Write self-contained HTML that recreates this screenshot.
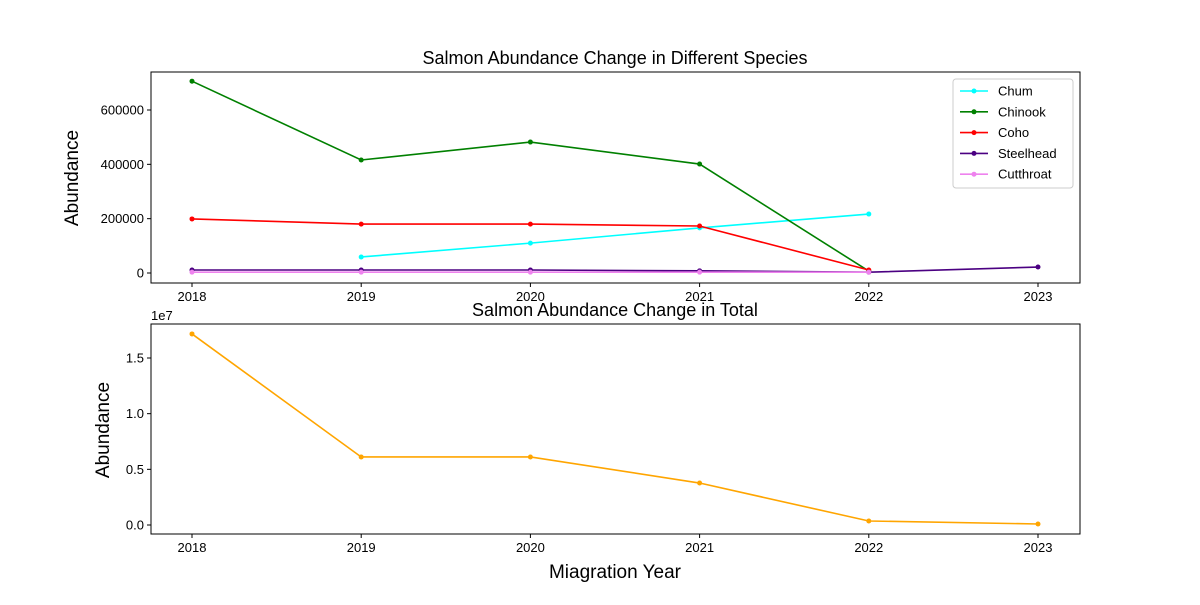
<!DOCTYPE html>
<html><head><meta charset="utf-8"><style>
body{margin:0;background:#fff}
svg{font-family:"Liberation Sans","DejaVu Sans",sans-serif}
</style></head><body>
<svg id="c" width="1200" height="600"></svg>
<script>
const years=[2018,2019,2020,2021,2022,2023];
const speciesNames=["Chum","Chinook","Coho","Steelhead","Cutthroat"];
const speciesColors=["cyan","green","red","indigo","violet"];
const chum=[null,59000,110000,166000,217000,null];
const chinook=[706000,416000,482000,401000,7000,null];
const coho=[199000,180000,180000,173000,11000,null];
const steelhead=[11000,11000,11000,8000,3000,22000];
const cutthroat=[3000,3000,3000,3000,3000,null];
const totals=[1.716e7,0.611e7,0.611e7,0.377e7,0.036e7,0.009e7];
const topTicks=[0,200000,400000,600000];
const botTicks=[0,0.5e7,1.0e7,1.5e7];
const botTickLabels=["0.0","0.5","1.0","1.5"];
const series=[chum,chinook,coho,steelhead,cutthroat];

const svg=document.getElementById('c');
const NS="http://www.w3.org/2000/svg";
function mk(t,a,p){const e=document.createElementNS(NS,t);for(const k in a)e.setAttribute(k,a[k]);(p||svg).appendChild(e);return e;}
const L=151,R=1080;
const x=v=>192+(v-2018)*(1038-192)/5;
const yT=v=>273-v*(163/600000);
const yB=v=>525-v*(167/1.5e7);

function axes(top,bot,name){
  const g=mk('g',{});
  
  
  mk('rect',{x:L,y:top,width:R-L,height:bot-top,fill:'none',stroke:'#000','stroke-width':1},g);
  years.forEach(yr=>{
    mk('line',{x1:x(yr),x2:x(yr),y1:bot,y2:bot+4,stroke:'#000'},g);
    const t=mk('text',{x:x(yr),y:bot+18,'text-anchor':'middle','font-size':13},g);t.textContent=yr;
    
  });
  return g;
}
function line(vals,yf,color,g,name){
  let d="";let pen=false;
  vals.forEach((v,i)=>{if(v==null){pen=false;return;}d+=(pen?"L":"M")+x(years[i])+","+yf(v);pen=true;});
  const p=mk('path',{d:d,fill:'none',stroke:color,'stroke-width':1.6},g);
  
  vals.forEach((v,i)=>{if(v==null)return;const c=mk('circle',{cx:x(years[i]),cy:yf(v),r:2.5,fill:color},g);
    });
}
// top
const g1=axes(72,283,'species-axes');
topTicks.forEach(v=>{mk('line',{x1:L-4,x2:L,y1:yT(v),y2:yT(v),stroke:'#000'},g1);
  const t=mk('text',{x:L-7,y:yT(v)+4.5,'text-anchor':'end','font-size':13},g1);t.textContent=v;
  });
series.forEach((s,i)=>line(s,yT,speciesColors[i],g1,speciesNames[i].toLowerCase()));
let t=mk('text',{x:615,y:64,'text-anchor':'middle','font-size':18});t.textContent="Salmon Abundance Change in Different Species";

t=mk('text',{x:78,y:178,'text-anchor':'middle','font-size':19,transform:'rotate(-90 78 178)'});t.textContent="Abundance";

// legend
const lg=mk('g',{});

mk('rect',{x:953,y:79,width:120,height:109,rx:3,fill:'#fff',stroke:'#ccc'},lg);
speciesNames.forEach((n,i)=>{const yy=91+i*20.8;
  const e=mk('g',{},lg);
  mk('line',{x1:960,x2:988,y1:yy,y2:yy,stroke:speciesColors[i],'stroke-width':1.6},e);
  mk('circle',{cx:974,cy:yy,r:2.5,fill:speciesColors[i]},e);
  const tt=mk('text',{x:998,y:yy+4.5,'font-size':13},e);tt.textContent=n;});
// bottom
const g2=axes(324,534,'total-axes');
botTicks.forEach((v,i)=>{mk('line',{x1:L-4,x2:L,y1:yB(v),y2:yB(v),stroke:'#000'},g2);
  const tt=mk('text',{x:L-7,y:yB(v)+4.5,'text-anchor':'end','font-size':13},g2);tt.textContent=botTickLabels[i];
  });
line(totals,yB,'orange',g2,'total');
t=mk('text',{x:151,y:320,'font-size':13});t.textContent="1e7";

t=mk('text',{x:615,y:316,'text-anchor':'middle','font-size':18});t.textContent="Salmon Abundance Change in Total";

t=mk('text',{x:109,y:430,'text-anchor':'middle','font-size':19,transform:'rotate(-90 109 430)'});t.textContent="Abundance";

t=mk('text',{x:615,y:578,'text-anchor':'middle','font-size':19});t.textContent="Miagration Year";

</script>
</body></html>
